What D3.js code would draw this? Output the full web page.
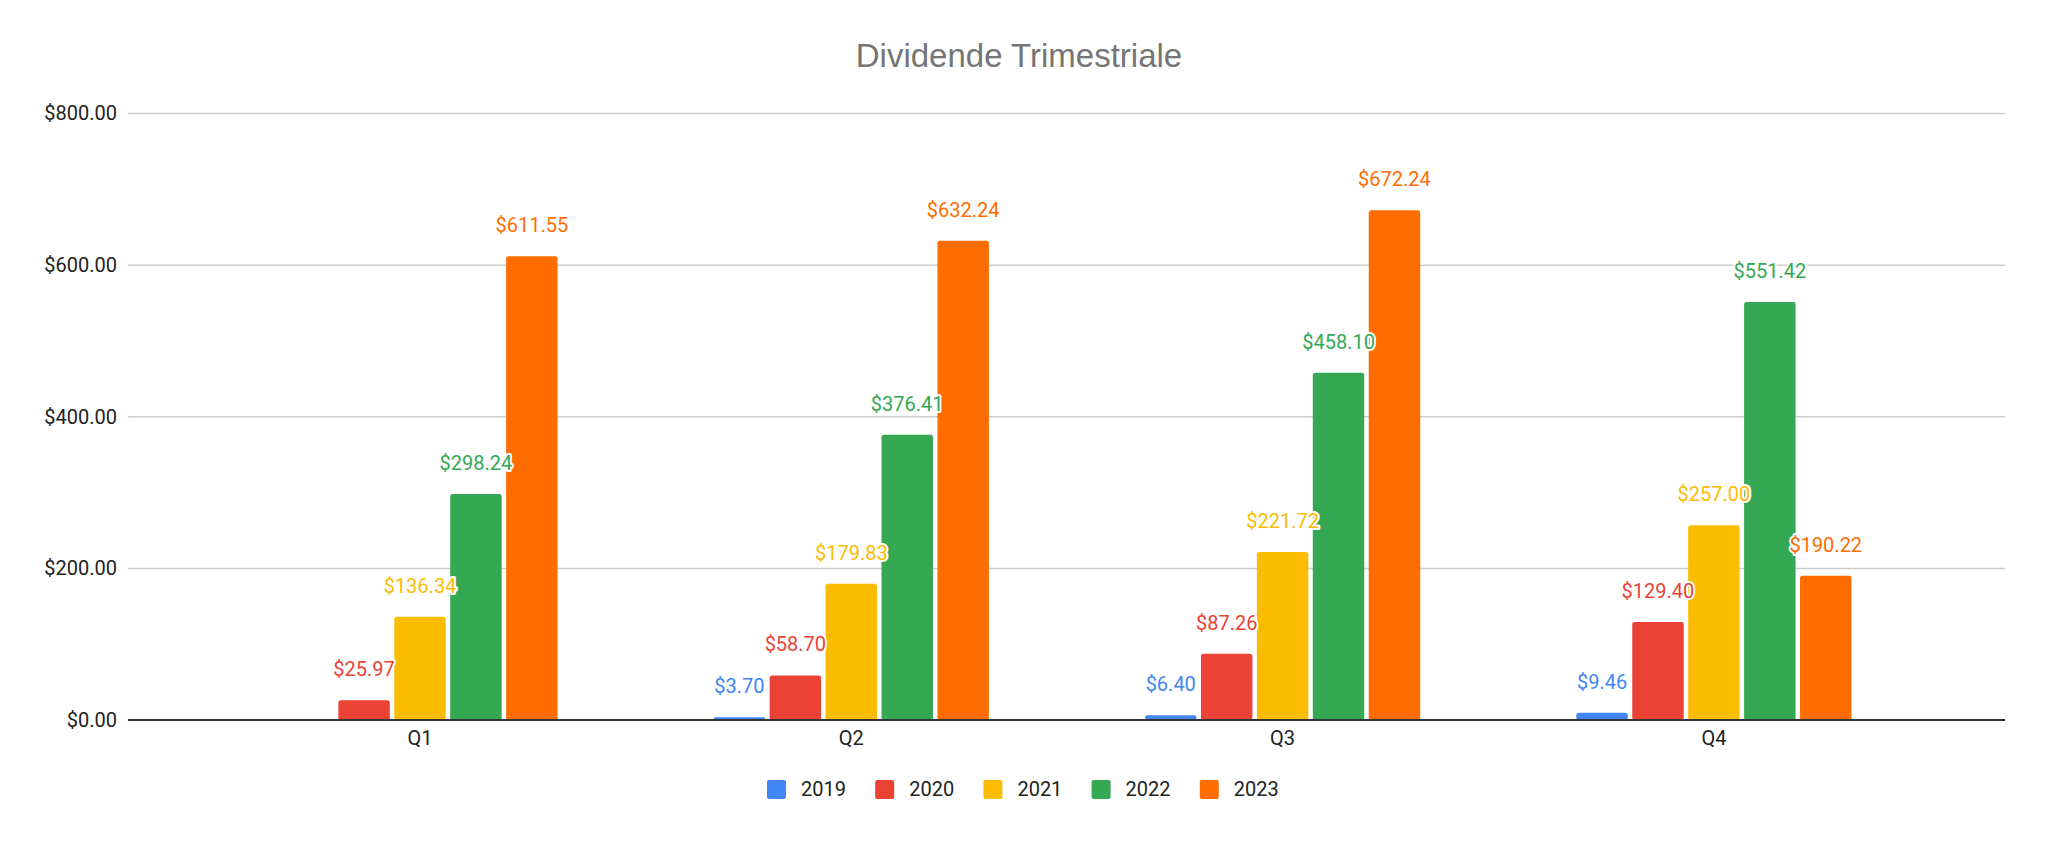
<!DOCTYPE html>
<html>
<head>
<meta charset="utf-8">
<script src="https://cdn.jsdelivr.net/npm/d3@7"></script>
<style>
  body { margin: 0; background: #fff; }
  text { font-family: Roboto, "Liberation Sans", Arial, sans-serif; }
</style>
</head>
<body>
<div id="chart"></div>
<script>
// chart data
var quarters = ["Q1", "Q2", "Q3", "Q4"];
var years = ["2019", "2020", "2021", "2022", "2023"];
var colors = ["#4285F4", "#EA4335", "#FBBC04", "#34A853", "#FF6D01"];
var yTicks = [0, 200, 400, 600, 800];

var values2019 = [0, 3.70, 6.40, 9.46];
var values2020 = [25.97, 58.70, 87.26, 129.40];
var values2021 = [136.34, 179.83, 221.72, 257.00];
var values2022 = [298.24, 376.41, 458.10, 551.42];
var values2023 = [611.55, 632.24, 672.24, 190.22];

var seriesValues = [values2019, values2020, values2021, values2022, values2023];

// screen size
var svgWidth = 2048;
var svgHeight = 841;

// plot area
var gridLeft = 128;
var gridRight = 2005;
var yTop = 113.5;
var yBottom = 720;

var svg = d3.select("#chart")
  .append("svg")
  .attr("width", svgWidth)
  .attr("height", svgHeight);

// flatten data into one row per bar
var bars = [];
quarters.forEach(function(q, qi) {
  years.forEach(function(y, yi) {
    bars.push({ quarter: q, year: y, value: seriesValues[yi][qi], color: colors[yi] });
  });
});

// scales
var step = 431.3;
var x0 = d3.scaleBand()
  .domain(quarters)
  .range([420 - step / 2, 420 + step * 3.5])
  .paddingInner(0.362)
  .paddingOuter(0.181);

var x1 = d3.scaleBand()
  .domain(years)
  .range([0, x0.bandwidth()])
  .paddingInner(0.08);

var yScale = d3.scaleLinear()
  .domain([0, 800])
  .range([yBottom, yTop]);

var color = d3.scaleOrdinal().domain(years).range(colors);

// title
svg.append("text")
  .attr("x", 1019)
  .attr("y", 67)
  .attr("text-anchor", "middle")
  .style("font-family", "'Liberation Sans', Arial, sans-serif")
  .attr("font-size", "33px")
  .attr("fill", "#757575")
  .text("Dividende Trimestriale");

// gridlines
svg.append("g")
  .selectAll("line")
  .data(yTicks.filter(d => d > 0))
  .enter()
  .append("line")
  .attr("x1", gridLeft)
  .attr("x2", gridRight)
  .attr("y1", d => yScale(d))
  .attr("y2", d => yScale(d))
  .attr("stroke", "#cccccc")
  .attr("stroke-width", 1.5);

// y axis labels
var leftAxis = d3.axisLeft(yScale)
  .tickValues(yTicks)
  .tickSize(0)
  .tickPadding(0)
  .tickFormat(d => "$" + d3.format(",.2f")(d));

var yAxis = svg.append("g")
  .attr("transform", `translate(117, 0)`)
  .call(leftAxis);
yAxis.select(".domain").remove();
yAxis.selectAll("text")
  .attr("font-size", "20px")
  .attr("fill", "#222")
  .style("font-family", "Roboto, sans-serif");

// bars
svg.append("g")
  .selectAll("rect")
  .data(bars)
  .enter()
  .append("rect")
  .attr("x", d => x0(d.quarter) + x1(d.year))
  .attr("y", d => yScale(d.value))
  .attr("width", x1.bandwidth())
  .attr("height", d => yBottom - yScale(d.value))
  .attr("rx", 2.5)
  .attr("fill", d => color(d.year));

// baseline
svg.append("line")
  .attr("x1", gridLeft)
  .attr("x2", gridRight)
  .attr("y1", yScale(0))
  .attr("y2", yScale(0))
  .attr("stroke", "#333333")
  .attr("stroke-width", 2);

// x axis labels
var bottomAxis = d3.axisBottom(x0).tickSize(0).tickPadding(0);
var xAxis = svg.append("g")
  .attr("transform", `translate(0, 731)`)
  .call(bottomAxis);
xAxis.select(".domain").remove();
xAxis.selectAll("text")
  .attr("font-size", "20px")
  .attr("fill", "#222")
  .style("font-family", "Roboto, sans-serif");

// value labels with white halo
svg.append("g")
  .selectAll("text")
  .data(bars.filter(d => d.value > 0))
  .enter()
  .append("text")
  .attr("x", d => x0(d.quarter) + x1(d.year) + x1.bandwidth() / 2)
  .attr("y", d => yScale(d.value) - 24)
  .attr("text-anchor", "middle")
  .attr("font-size", "20px")
  .attr("fill", d => color(d.year))
  .attr("stroke", "#fff")
  .attr("stroke-width", 4)
  .attr("stroke-linejoin", "round")
  .attr("paint-order", "stroke")
  .text(d => "$" + d3.format(",.2f")(d.value));

// legend
var legend = svg.append("g")
  .selectAll("g")
  .data(years)
  .enter()
  .append("g")
  .attr("transform", (d, i) => `translate(${767 + i * 108.2}, 780)`);

legend.append("rect")
  .attr("width", 19)
  .attr("height", 19)
  .attr("rx", 2)
  .attr("fill", d => color(d));

legend.append("text")
  .attr("x", 34)
  .attr("y", 16)
  .attr("font-size", "20px")
  .attr("fill", "#222")
  .text(d => d);
</script>
</body>
</html>
